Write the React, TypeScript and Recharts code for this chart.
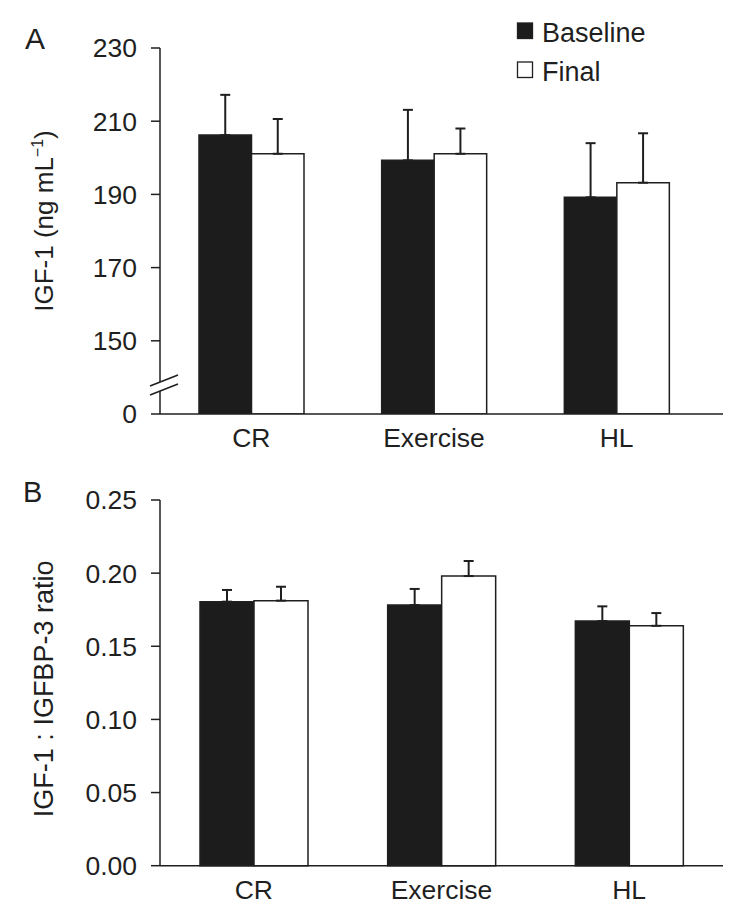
import React from 'react';
import { BarChart, Bar, XAxis, YAxis, ErrorBar, Legend, Label } from 'recharts';

// ---- data ----
const categories = ['CR', 'Exercise', 'HL'];

const igfBaseline = [206.2, 199.3, 189.2];
const igfBaselineErr = [11.0, 13.8, 14.8];
const igfFinal = [201.1, 201.1, 193.2];
const igfFinalErr = [9.5, 6.9, 13.5];

const ratioBaseline = [0.1805, 0.1782, 0.1673];
const ratioBaselineErr = [0.008, 0.011, 0.01];
const ratioFinal = [0.1812, 0.198, 0.164];
const ratioFinalErr = [0.0095, 0.0103, 0.0087];

// broken axis in panel A: the value 130 is drawn as "0"
const igfAxisZero = 130;
const igfBreakValue = 137.5;
const igfTicks = [130, igfBreakValue, 150, 170, 190, 210, 230];
const ratioTicks = [0, 0.05, 0.1, 0.15, 0.2, 0.25];

const seriesNames = ['Baseline', 'Final'];

const igfData = categories.map((name, i) => ({
  name,
  baseline: igfBaseline[i],
  baselineErr: [0, igfBaselineErr[i]],
  final: igfFinal[i],
  finalErr: [0, igfFinalErr[i]],
}));

const ratioData = categories.map((name, i) => ({
  name,
  baseline: ratioBaseline[i],
  baselineErr: [0, ratioBaselineErr[i]],
  final: ratioFinal[i],
  finalErr: [0, ratioFinalErr[i]],
}));

// ---- style ----
const FONT = '"Liberation Sans", Arial, Helvetica, sans-serif';
const INK = '#1f1f1f';
const DARK = '#1c1c1c';
const FS = 26.5;
const LABEL_FS = 26;
const TICK_SIZE = 9;
const TICK_MARGIN = 14;

const IgfTick = (props: any) => {
  const { x, y, payload } = props;
  const ax = x + TICK_SIZE + TICK_MARGIN;
  if (payload.value === igfBreakValue) {
    const slope = -11 / 28;
    const gap = 4.5;
    const x1 = ax - 10;
    const x2 = ax + 18;
    const yAt = (px: number, off: number) => y + slope * (px - ax) + off;
    return (
      <g>
        <polygon
          points={`${ax - 4},${yAt(ax - 4, -gap)} ${ax + 4},${yAt(ax + 4, -gap)} ${ax + 4},${yAt(ax + 4, gap)} ${ax - 4},${yAt(ax - 4, gap)}`}
          fill="#fff"
        />
        <line x1={x1} y1={yAt(x1, -gap)} x2={x2} y2={yAt(x2, -gap)} stroke={INK} strokeWidth={1.6} />
        <line x1={x1} y1={yAt(x1, gap)} x2={x2} y2={yAt(x2, gap)} stroke={INK} strokeWidth={1.6} />
      </g>
    );
  }
  const label = payload.value === igfAxisZero ? '0' : String(payload.value);
  return (
    <g>
      <line x1={ax - TICK_SIZE} y1={y} x2={ax} y2={y} stroke={INK} strokeWidth={1.5} />
      <text x={x} y={y} dy="0.355em" textAnchor="end" fontSize={FS} fontFamily={FONT} fill={INK}>
        {label}
      </text>
    </g>
  );
};

const IgfAxisLabel = (props: any) => {
  const vb = props.viewBox;
  const cx = vb.x + 53;
  const cy = vb.y + vb.height / 2 - 10;
  return (
    <text
      x={cx}
      y={cy}
      transform={`rotate(-90, ${cx}, ${cy})`}
      textAnchor="middle"
      fontSize={LABEL_FS}
      fontFamily={FONT}
      fill={INK}
    >
      IGF-1 (ng mL
      <tspan dy={-10} fontSize={16}>−1</tspan>
      <tspan dy={10}>)</tspan>
    </text>
  );
};

const RatioAxisLabel = (props: any) => {
  const vb = props.viewBox;
  const cx = vb.x + 53;
  const cy = vb.y + vb.height / 2 + 6;
  return (
    <text
      x={cx}
      y={cy}
      transform={`rotate(-90, ${cx}, ${cy})`}
      textAnchor="middle"
      fontSize={LABEL_FS + 1}
      fontFamily={FONT}
      fill={INK}
    >
      IGF-1 : IGFBP-3 ratio
    </text>
  );
};

const LegendContent = (props: any) => {
  const payload = props.payload || [];
  return (
    <svg width={150} height={90} style={{ display: 'block' }}>
      {payload.map((entry: any, i: number) => {
        const yb = 42 + 39 * i;
        return (
          <g key={i}>
            <rect x={2.5} y={yb - 19} width={15} height={15.5} fill={entry.color} stroke={INK} strokeWidth={1.3} />
            <text x={27} y={yb} fontSize={27} fontFamily={FONT} fill={INK}>
              {entry.value}
            </text>
          </g>
        );
      })}
    </svg>
  );
};

const tickStyle = { fontSize: FS, fontFamily: FONT, fill: INK };

export default function App() {
  return (
    <div style={{ position: 'absolute', left: 0, top: 0, width: 750, height: 917, background: '#fff', fontFamily: FONT }}>
      <div style={{ position: 'absolute', left: 25, top: 24, fontSize: 30, lineHeight: '30px', color: INK }}>A</div>
      <div style={{ position: 'absolute', left: 23, top: 478, fontSize: 29, lineHeight: '29px', color: INK }}>B</div>

      <div style={{ position: 'absolute', left: 0, top: 0 }}>
        <BarChart
          width={750}
          height={460}
          data={igfData}
          margin={{ top: 48, right: 27, left: 0, bottom: 6 }}
          barGap={0}
          barSize={52.5}
        >
          <XAxis
            dataKey="name"
            height={40}
            tickLine={false}
            tickMargin={8.5}
            axisLine={{ stroke: INK, strokeWidth: 1.5 }}
            padding={{ left: 0, right: 15 }}
            tick={tickStyle}
          />
          <YAxis
            type="number"
            width={160}
            domain={[igfAxisZero, 230]}
            ticks={igfTicks}
            interval={0}
            allowDataOverflow
            tickLine={false}
            tickSize={TICK_SIZE}
            tickMargin={TICK_MARGIN}
            axisLine={{ stroke: INK, strokeWidth: 1.5 }}
            tick={<IgfTick />}
          >
            <Label content={<IgfAxisLabel />} />
          </YAxis>
          <Legend
            layout="vertical"
            align="center"
            verticalAlign="middle"
            content={<LegendContent />}
            wrapperStyle={{ left: 515, top: 0, width: 150, height: 90 }}
          />
          <Bar dataKey="baseline" name={seriesNames[0]} fill={DARK} stroke={INK} strokeWidth={1.5} legendType="square" isAnimationActive={false}>
            <ErrorBar dataKey="baselineErr" width={5} stroke={INK} strokeWidth={2} direction="y" />
          </Bar>
          <Bar dataKey="final" name={seriesNames[1]} fill="#ffffff" stroke={INK} strokeWidth={1.5} legendType="square" isAnimationActive={false}>
            <ErrorBar dataKey="finalErr" width={5} stroke={INK} strokeWidth={2} direction="y" />
          </Bar>
        </BarChart>
      </div>

      <div style={{ position: 'absolute', left: 0, top: 460 }}>
        <BarChart
          width={750}
          height={457}
          data={ratioData}
          margin={{ top: 40, right: 27, left: 0, bottom: 11.3 }}
          barGap={0}
          barSize={54}
        >
          <XAxis
            dataKey="name"
            height={40}
            tickLine={false}
            tickMargin={8.5}
            axisLine={{ stroke: INK, strokeWidth: 1.5 }}
            tick={tickStyle}
          />
          <YAxis
            type="number"
            width={160}
            domain={[0, 0.25]}
            ticks={ratioTicks}
            interval={0}
            tickSize={TICK_SIZE}
            tickMargin={TICK_MARGIN}
            tickLine={{ stroke: INK, strokeWidth: 1.5 }}
            axisLine={{ stroke: INK, strokeWidth: 1.5 }}
            tickFormatter={(v: number) => v.toFixed(2)}
            tick={tickStyle}
          >
            <Label content={<RatioAxisLabel />} />
          </YAxis>
          <Bar dataKey="baseline" name={seriesNames[0]} fill={DARK} stroke={INK} strokeWidth={1.5} isAnimationActive={false}>
            <ErrorBar dataKey="baselineErr" width={5} stroke={INK} strokeWidth={2} direction="y" />
          </Bar>
          <Bar dataKey="final" name={seriesNames[1]} fill="#ffffff" stroke={INK} strokeWidth={1.5} isAnimationActive={false}>
            <ErrorBar dataKey="finalErr" width={5} stroke={INK} strokeWidth={2} direction="y" />
          </Bar>
        </BarChart>
      </div>
    </div>
  );
}
